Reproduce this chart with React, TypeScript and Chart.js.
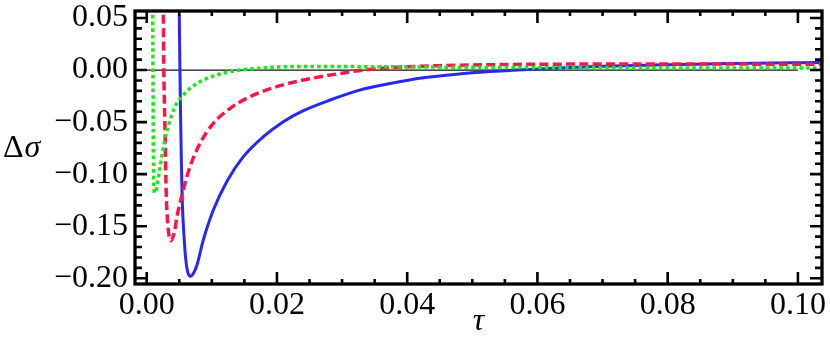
import React, { useEffect, useRef } from 'react';
import { Chart, registerables } from 'chart.js';

Chart.register(...registerables);

// Axis ranges and tick steps
const X_MIN = -0.0018;
const X_MAX = 0.1037;
const Y_MIN = -0.2055;
const Y_MAX = 0.0567;
const X_MINOR = 0.005;
const X_MAJOR = 0.02;
const Y_MINOR = 0.01;
const Y_MAJOR = 0.05;

const X_TITLE = 'τ';
const Y_TITLE_A = 'Δ';
const Y_TITLE_B = 'σ';

// Blue solid curve
const tauBlue = [0.005, 0.0051, 0.0052, 0.00535, 0.00547, 0.00573, 0.006, 0.0063, 0.00676, 0.0072, 0.00768, 0.0087, 0.01023, 0.01229, 0.01484, 0.01791, 0.02098, 0.02406, 0.02816, 0.0323, 0.0374, 0.0425, 0.0476, 0.0527, 0.0578, 0.064, 0.07, 0.08, 0.09, 0.1037];
const sigmaBlue = [0.053, 0.0, -0.045, -0.098, -0.128, -0.16, -0.182, -0.194, -0.198, -0.195, -0.188, -0.163, -0.1344, -0.1072, -0.0832, -0.064, -0.0496, -0.039, -0.0288, -0.02, -0.013, -0.0075, -0.004, -0.0015, 0.0003, 0.0022, 0.0036, 0.0051, 0.0062, 0.0073];

// Red dashed curve
const tauRed = [0.00255, 0.00263, 0.0028, 0.003, 0.0032, 0.0034, 0.0037, 0.0043, 0.00461, 0.00562, 0.00665, 0.00819, 0.01023, 0.0128, 0.01587, 0.01997, 0.02406, 0.02919, 0.0333, 0.0374, 0.045, 0.055, 0.065, 0.08, 0.1037];
const sigmaRed = [0.053, 0.0, -0.055, -0.119, -0.145, -0.158, -0.164, -0.154, -0.142, -0.1152, -0.0928, -0.0704, -0.0512, -0.0368, -0.0256, -0.016, -0.0096, -0.0038, 0.0, 0.0022, 0.0042, 0.0053, 0.0057, 0.0058, 0.0055];

// Green dotted curve
const tauGreen = [0.00092, 0.00096, 0.001, 0.00106, 0.0012, 0.0015, 0.002, 0.0028, 0.00358, 0.0046, 0.0054, 0.00665, 0.0087, 0.01126, 0.01382, 0.0194, 0.0235, 0.035, 0.05, 0.07, 0.1037];
const sigmaGreen = [0.053, 0.0, -0.06, -0.1, -0.118, -0.114, -0.095, -0.067, -0.048, -0.032, -0.0256, -0.0176, -0.0096, -0.0038, -0.0005, 0.0026, 0.0034, 0.0032, 0.0026, 0.0021, 0.002];

// Zero reference line
const tauZero = [X_MIN, 0.1];
const sigmaZero = [0, 0];

const FONT = '"Liberation Serif", "Times New Roman", serif';

const zip = (xs: number[], ys: number[]) => xs.map((x, i) => ({ x, y: ys[i] }));

const isMajor = (v: number, step: number) => Math.abs(v / step - Math.round(v / step)) < 1e-6;

const fmt = (v: number) => {
  if (Math.abs(v) < 1e-9) return '0.00';
  return (v < 0 ? '\u2212' : '') + Math.abs(v).toFixed(2);
};

const framePlugin = {
  id: 'framePlugin',
  afterDraw(chart: any) {
    const { ctx, chartArea } = chart;
    const { left, right, top, bottom } = chartArea;
    const xs = chart.scales.x;
    const ys = chart.scales.y;
    ctx.save();
    ctx.strokeStyle = '#000';
    ctx.lineWidth = 2.6;
    ctx.lineCap = 'butt';
    ctx.beginPath();
    for (const t of xs.ticks) {
      const px = xs.getPixelForValue(t.value);
      const len = isMajor(t.value, X_MAJOR) ? 12 : 5;
      ctx.moveTo(px, bottom);
      ctx.lineTo(px, bottom - len);
      ctx.moveTo(px, top);
      ctx.lineTo(px, top + len);
    }
    for (const t of ys.ticks) {
      const py = ys.getPixelForValue(t.value);
      const len = isMajor(t.value, Y_MAJOR) ? 12 : 7;
      ctx.moveTo(left, py);
      ctx.lineTo(left + len, py);
      ctx.moveTo(right, py);
      ctx.lineTo(right - len, py);
    }
    ctx.stroke();
    ctx.lineWidth = 3.3;
    ctx.strokeRect(left, top, right - left, bottom - top);

    // Axis titles
    ctx.fillStyle = '#000';
    ctx.textBaseline = 'alphabetic';
    ctx.textAlign = 'left';
    ctx.font = `32px ${FONT}`;
    ctx.fillText(Y_TITLE_A, 3, 157);
    const w = ctx.measureText(Y_TITLE_A).width;
    ctx.font = `italic 32px ${FONT}`;
    ctx.fillText(Y_TITLE_B, 3 + w + 1, 157);
    ctx.textAlign = 'center';
    ctx.fillText(X_TITLE, (left + right) / 2, 330);
    ctx.restore();
  },
};

const zeroPad = (s: any) => {
  s.paddingTop = 0;
  s.paddingBottom = 0;
  s.paddingLeft = 0;
  s.paddingRight = 0;
};

export default function App() {
  const ref = useRef<HTMLCanvasElement | null>(null);

  useEffect(() => {
    if (!ref.current) return;
    const chart = new Chart(ref.current, {
      type: 'line',
      data: {
        datasets: [
          {
            data: zip(tauZero, sigmaZero),
            borderColor: '#111',
            borderWidth: 1.2,
            pointRadius: 0,
            order: 10,
          },
          {
            data: zip(tauBlue, sigmaBlue),
            borderColor: 'rgb(40,40,245)',
            borderWidth: 3,
            pointRadius: 0,
            cubicInterpolationMode: 'monotone',
            order: 3,
          },
          {
            data: zip(tauRed, sigmaRed),
            borderColor: 'rgb(255,22,72)',
            borderWidth: 3.5,
            borderDash: [9, 4.3],
            pointRadius: 0,
            cubicInterpolationMode: 'monotone',
            order: 2,
          },
          {
            data: zip(tauGreen, sigmaGreen),
            borderColor: 'rgb(25,232,25)',
            borderWidth: 3.5,
            borderDash: [3.6, 3.1],
            pointRadius: 0,
            cubicInterpolationMode: 'monotone',
            order: 1,
          },
        ] as any,
      },
      options: {
        responsive: false,
        animation: false,
        devicePixelRatio: 1,
        layout: { padding: { top: 11, right: 8, left: 0, bottom: 0 } },
        plugins: { legend: { display: false }, tooltip: { enabled: false } },
        elements: { point: { radius: 0 } },
        scales: {
          x: {
            type: 'linear',
            min: X_MIN,
            max: X_MAX,
            afterFit: (s: any) => {
              s.height = 60;
              zeroPad(s);
            },
            grid: { display: false, drawTicks: false },
            border: { display: false },
            ticks: {
              stepSize: X_MINOR,
              autoSkip: false,
              includeBounds: false,
              maxRotation: 0,
              minRotation: 0,
              maxTicksLimit: 200,
              padding: 6,
              color: '#000',
              font: { family: FONT, size: 32, lineHeight: 1 },
              callback: (v: any) => (isMajor(Number(v), X_MAJOR) ? fmt(Number(v)) : ''),
            },
          },
          y: {
            type: 'linear',
            min: Y_MIN,
            max: Y_MAX,
            afterFit: (s: any) => {
              s.width = 135;
              zeroPad(s);
            },
            grid: { display: false, drawTicks: false },
            border: { display: false },
            ticks: {
              stepSize: Y_MINOR,
              autoSkip: false,
              includeBounds: false,
              maxTicksLimit: 200,
              padding: 7,
              color: '#000',
              font: { family: FONT, size: 32, lineHeight: 1 },
              callback: (v: any) => (isMajor(Number(v), Y_MAJOR) ? fmt(Number(v)) : ''),
            },
          },
        },
      } as any,
      plugins: [framePlugin],
    });
    return () => chart.destroy();
  }, []);

  return (
    <div style={{ position: 'absolute', left: 0, top: 0, width: 830, height: 344, background: '#fff' }}>
      <canvas ref={ref} width={830} height={344} style={{ width: 830, height: 344, display: 'block' }} />
    </div>
  );
}
